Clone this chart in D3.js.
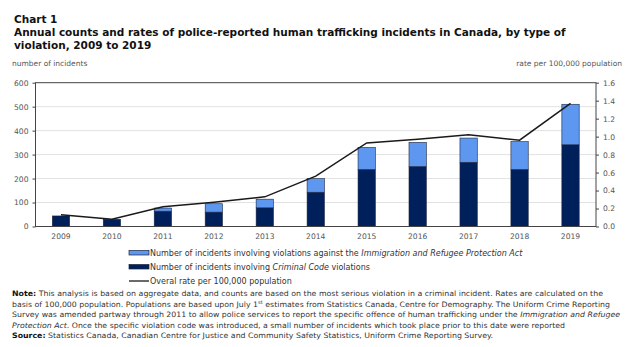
<!DOCTYPE html>
<html>
<head>
<meta charset="utf-8">
<script src="https://cdn.jsdelivr.net/npm/d3@7"></script>
<style>
  html, body { margin: 0; padding: 0; background: #fff; }
  svg { display: block; font-family: "DejaVu Sans", Verdana, sans-serif; }
</style>
</head>
<body>
<svg id="chart" width="628" height="347"></svg>
<script>
// ---- data ----
const years = ["2009","2010","2011","2012","2013","2014","2015","2016","2017","2018","2019"];
const criminalCode = [44, 30, 64, 60, 78, 143, 238, 250, 268, 238, 341];
const irpa = [0, 0, 13, 35, 36, 57, 92, 101, 101, 116, 169];
const rate = [0.13, 0.08, 0.22, 0.27, 0.33, 0.56, 0.93, 0.97, 1.02, 0.96, 1.37];
const countTicks = [0, 100, 200, 300, 400, 500, 600];
const rateTicks = [0, 0.2, 0.4, 0.6, 0.8, 1.0, 1.2, 1.4, 1.6];

const titleLines = [
  "Chart 1",
  "Annual counts and rates of police-reported human trafficking incidents in Canada, by type of",
  "violation,  2009 to 2019"
];

const colIRPA = "#5e97ef";
const colCC = "#00205c";

const svg = d3.select("#chart");
const pLeft = 35.5, pRight = 596, pTop = 82.7, pBottom = 226.5;

const x = d3.scaleBand().domain(years).range([pLeft, pRight]).paddingInner(0.66).paddingOuter(0.33);
const yL = d3.scaleLinear().domain([0, 600]).range([pBottom, pTop]);
const yR = d3.scaleLinear().domain([0, 1.6]).range([pBottom, pTop]);

// title
svg.append("g").selectAll("text").data(titleLines).join("text")
  .attr("x", 14).attr("y", (d, i) => 23 + i * 13)
  .attr("font-size", 10.5).attr("font-weight", "bold").attr("fill", "#111")
  .text(d => d);

// axis titles
svg.append("text").attr("x", 12).attr("y", 66).attr("font-size", 7.5).attr("fill", "#555").text("number of incidents");
svg.append("text").attr("x", 622).attr("y", 66).attr("text-anchor", "end").attr("font-size", 7.5).attr("fill", "#555").text("rate per 100,000 population");

// gridlines
svg.append("g").selectAll("line").data(countTicks.slice(1, -1)).join("line")
  .attr("x1", pLeft).attr("x2", pRight)
  .attr("y1", d => yL(d)).attr("y2", d => yL(d))
  .attr("stroke", "#e2e2e2").attr("stroke-width", 1);

// stacked bars
const stackData = years.map((y, i) => ({ year: y, cc: criminalCode[i], irpa: irpa[i] }));
const series = d3.stack().keys(["cc", "irpa"])(stackData);
const colors = { cc: colCC, irpa: colIRPA };
svg.append("g").selectAll("g").data(series).join("g")
  .attr("fill", d => colors[d.key])
  .selectAll("rect").data(d => d.filter(s => s[1] - s[0] > 0)).join("rect")
  .attr("x", d => x(d.data.year))
  .attr("width", x.bandwidth())
  .attr("y", d => yL(d[1]))
  .attr("height", d => yL(d[0]) - yL(d[1]))
  .attr("stroke", "#1b2540").attr("stroke-width", 0.6);

// rate line
const line = d3.line().x((d, i) => x(years[i]) + x.bandwidth() / 2).y(d => yR(d));
svg.append("path").datum(rate).attr("d", line)
  .attr("fill", "none").attr("stroke", "#1a1a1a").attr("stroke-width", 1.5);

// frame
svg.append("rect").attr("x", pLeft).attr("y", pTop).attr("width", pRight - pLeft).attr("height", pBottom - pTop)
  .attr("fill", "none").attr("stroke", "#444").attr("stroke-width", 1);

// axes
const axL = svg.append("g").attr("transform", `translate(${pLeft},0)`)
  .call(d3.axisLeft(yL).tickValues(countTicks).tickSize(3).tickPadding(4));
const axR = svg.append("g").attr("transform", `translate(${pRight},0)`)
  .call(d3.axisRight(yR).tickValues(rateTicks).tickSize(3).tickPadding(4).tickFormat(d3.format(".1f")));
const axB = svg.append("g").attr("transform", `translate(0,${pBottom})`)
  .call(d3.axisBottom(x).tickSize(0).tickPadding(7.5));
[axL, axR, axB].forEach(a => {
  a.select(".domain").remove();
  a.selectAll("line").attr("stroke", "#444");
  a.selectAll("text").attr("font-size", 7.6).attr("fill", "#555").attr("font-family", "DejaVu Sans, Verdana, sans-serif");
});

// legend
const lg = svg.append("g").attr("font-size", 8).attr("fill", "#333");
const lx = 129, lw = 20;
const rows = [253, 267, 281];
lg.append("rect").attr("x", lx).attr("y", rows[0] - 2.5).attr("width", lw).attr("height", 4.5)
  .attr("fill", colIRPA).attr("stroke", "#1b2540").attr("stroke-width", 0.7);
lg.append("rect").attr("x", lx).attr("y", rows[1] - 2.5).attr("width", lw).attr("height", 4.5)
  .attr("fill", colCC).attr("stroke", "#1b2540").attr("stroke-width", 0.7);
lg.append("line").attr("x1", lx).attr("x2", lx + lw).attr("y1", rows[2]).attr("y2", rows[2])
  .attr("stroke", "#1a1a1a").attr("stroke-width", 1.3);
const t1 = lg.append("text").attr("x", lx + lw + 1).attr("y", rows[0] + 3).attr("fill", "#333");
t1.append("tspan").text("Number of incidents involving violations against the ");
t1.append("tspan").attr("font-style", "italic").text("Immigration and Refugee Protection Act");
const t2 = lg.append("text").attr("x", lx + lw + 1).attr("y", rows[1] + 3).attr("fill", "#333");
t2.append("tspan").text("Number of incidents involving ");
t2.append("tspan").attr("font-style", "italic").text("Criminal Code");
t2.append("tspan").text(" violations");
lg.append("text").attr("x", lx + lw + 1).attr("y", rows[2] + 3).attr("fill", "#333").text("Overal rate per 100,000 population");

// notes
const notes = [
  { w: 591, parts: [["b", "Note:"], ["n", " This analysis is based on aggregate data, and counts are based on the most serious violation in a criminal incident. Rates are calculated on the"]] },
  { w: 598, parts: [["n", "basis of 100,000 population. Populations are based upon July 1"], ["sup", "st"], ["n", " estimates from Statistics Canada, Centre for Demography. The Uniform Crime Reporting"]] },
  { w: 608, parts: [["n", "Survey was amended partway through 2011 to allow police services to report the specific offence of human trafficking under the "], ["i", "Immigration and Refugee"]] },
  { w: 553, parts: [["i", "Protection Act"], ["n", ". Once the specific violation code was introduced, a small number of incidents which took place prior to this date were reported"]] },
  { w: 481, parts: [["b", "Source:"], ["n", " Statistics Canada, Canadian Centre for Justice and Community Safety Statistics, Uniform Crime Reporting Survey."]] }
];
const ng = svg.append("g").attr("font-size", 7.4).attr("fill", "#333");
notes.forEach((n, i) => {
  const t = ng.append("text").attr("x", 12).attr("y", 296 + i * 10.5)
    .attr("textLength", n.w).attr("lengthAdjust", "spacingAndGlyphs");
  n.parts.forEach(([k, s]) => {
    const sp = t.append("tspan").text(s);
    if (k === "b") sp.attr("font-weight", "bold").attr("fill", "#111");
    if (k === "i") sp.attr("font-style", "italic");
    if (k === "sup") sp.attr("font-size", 5).attr("dy", -3);
    if (k === "n" && i === 1 && s.startsWith(" estimates")) sp.attr("dy", 3);
  });
});
</script>
</body>
</html>
